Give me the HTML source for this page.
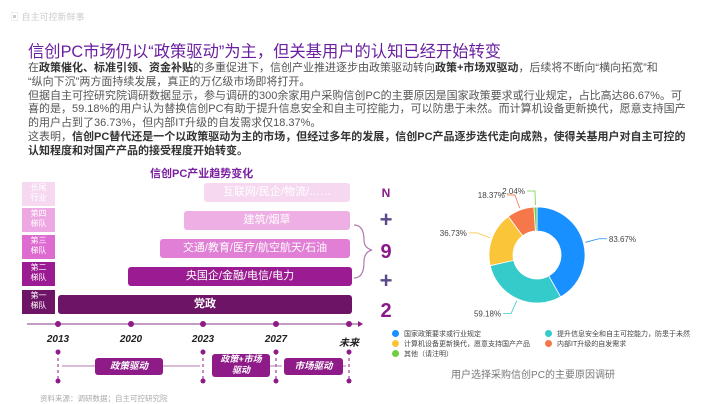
<!DOCTYPE html>
<html><head><meta charset="utf-8"><style>
body{margin:0;width:720px;height:404px;background:#fff;position:relative;overflow:hidden;font-family:"Liberation Sans","Noto Sans CJK SC",sans-serif}
.a{position:absolute}
.p{font-size:11px;color:#555;line-height:13.8px;left:28px;top:62px;white-space:nowrap}
.p b{color:#333}
.lab{position:absolute;left:22px;width:33px;height:24px;font-size:8px;line-height:10px;color:#fff;text-align:center;padding-top:1px;box-sizing:border-box}
.bar{position:absolute;height:19px;border-radius:3px;color:#fff;font-size:11px;text-align:center;line-height:19px}
.yr{position:absolute;top:334px;font-size:10px;font-weight:bold;font-style:italic;color:#222;width:40px;text-align:center}
.num{position:absolute;left:378px;width:16px;text-align:center;color:#8a1a8a;font-weight:bold}
.drv{position:absolute;background:#8e1b88;color:#fff;font-size:9.5px;font-style:italic;font-weight:bold;text-align:center;border-radius:3px}
.lg{position:absolute;font-size:7px;color:#444;line-height:9px}
.lg i{display:inline-block;width:7px;height:7px;border-radius:50%;margin-right:5px;vertical-align:-1px}
</style></head><body>
<div class="a" style="left:10px;top:10px;font-size:9px;color:#ccc">▣ 自主可控新鲜事</div>
<div class="a" style="left:28px;top:38px;font-size:16.3px;color:#6a1fa0">信创PC市场仍以“政策驱动”为主，但关基用户的认知已经开始转变</div>
<div class="a p">在<b>政策催化、标准引领、资金补贴</b>的多重促进下，信创产业推进逐步由政策驱动转向<b>政策+市场双驱动</b>，后续将不断向“横向拓宽”和<br>“纵向下沉”两方面持续发展，真正的万亿级市场即将打开。<br>但据自主可控研究院调研数据显示，参与调研的300余家用户采购信创PC的主要原因是国家政策要求或行业规定，占比高达86.67%。可<br>喜的是，59.18%的用户认为替换信创PC有助于提升信息安全和自主可控能力，可以防患于未然。而计算机设备更新换代，愿意支持国产<br>的用户占到了36.73%，但内部IT升级的自发需求仅18.37%。<br>这表明，<b>信创PC替代还是一个以政策驱动为主的市场，但经过多年的发展，信创PC产品逐步迭代走向成熟，使得关基用户对自主可控的<br>认知程度和对国产产品的接受程度开始转变。</b></div>

<div class="a" style="left:150px;top:165px;font-size:11px;font-weight:bold;color:#7a1fa0">信创PC产业趋势变化</div>
<div class="lab" style="top:182px;background:#f6d9f1">长尾<br>行业</div>
<div class="lab" style="top:208px;background:#eda7e2">第四<br>梯队</div>
<div class="lab" style="top:235px;background:#dd6bd0">第三<br>梯队</div>
<div class="lab" style="top:262px;background:#9b1c92">第二<br>梯队</div>
<div class="lab" style="top:290px;background:#6e1466">第一<br>梯队</div>
<div class="bar" style="left:204px;width:146px;top:183px;background:#f6d9f1">互联网/民企/物流/……</div>
<div class="bar" style="left:184px;width:166px;top:211px;background:#eeb0e4">建筑/烟草</div>
<div class="bar" style="left:160px;width:190px;top:239px;background:#e07fd5">交通/教育/医疗/航空航天/石油</div>
<div class="bar" style="left:128px;width:224px;top:267px;background:#9b1c92">央国企/金融/电信/电力</div>
<div class="bar" style="left:58px;width:294px;top:295px;background:#6e1466;font-weight:bold">党政</div>
<svg class="a" style="left:0;top:0" width="720" height="404">
<line x1="27" y1="324" x2="360" y2="324" stroke="#b07aae" stroke-width="1.5"/>
<path d="M358 321 L363 324 L358 327Z" fill="#8e1b88"/>
<g fill="#8e1b88"><circle cx="58" cy="324" r="3"/><circle cx="131" cy="324" r="3"/><circle cx="203" cy="324" r="3"/><circle cx="276" cy="324" r="3"/><circle cx="349" cy="324" r="3"/>
<circle cx="58" cy="352" r="2.5"/><circle cx="203" cy="352" r="2.5"/><circle cx="276" cy="352" r="2.5"/><circle cx="349" cy="352" r="2.5"/>
<circle cx="58" cy="381" r="2.5"/><circle cx="203" cy="381" r="2.5"/><circle cx="276" cy="381" r="2.5"/><circle cx="349" cy="381" r="2.5"/></g>
<g stroke="#8e1b88" stroke-dasharray="3 3"><line x1="58" y1="352" x2="58" y2="381"/><line x1="203" y1="352" x2="203" y2="381"/><line x1="276" y1="352" x2="276" y2="381"/><line x1="349" y1="352" x2="349" y2="381"/></g>
<g stroke="#b07aae"><line x1="62" y1="366" x2="200" y2="366"/><line x1="270" y1="366" x2="282" y2="366"/><line x1="340" y1="366" x2="346" y2="366"/></g>
<path d="M354 225 Q364 225 364 240 Q364 248 372 250 Q364 252 364 262 Q364 278 354 278" fill="none" stroke="#b07aae" stroke-width="1.2"/>
</svg>
<div class="yr" style="left:38px">2013</div>
<div class="yr" style="left:111px">2020</div>
<div class="yr" style="left:183px">2023</div>
<div class="yr" style="left:256px">2027</div>
<div class="yr" style="left:329px">未来</div>
<div class="drv" style="left:95px;top:358px;width:68px;height:17px;line-height:17px">政策驱动</div>
<div class="drv" style="left:212px;top:354px;width:58px;height:23px;line-height:11px;font-size:9px">政策+市场<br>驱动</div>
<div class="drv" style="left:284px;top:358px;width:59px;height:17px;line-height:17px">市场驱动</div>
<div class="num" style="top:186px;font-size:12px">N</div>
<div class="num" style="top:207px;font-size:22px;color:#5b4a8a">+</div>
<div class="num" style="top:241px;font-size:20px">9</div>
<div class="num" style="top:268px;font-size:22px;color:#5b4a8a">+</div>
<div class="num" style="top:300px;font-size:20px">2</div>
<div class="a" style="left:40px;top:393px;font-size:7.5px;color:#aaa">资料来源：调研数据；自主可控研究院</div>

<svg class="a" id="donut" style="left:0;top:0" width="720" height="404"></svg>
<div class="lg" style="left:392px;top:330px"><i style="background:#1890ff"></i>国家政策要求或行业规定</div>
<div class="lg" style="left:545px;top:330px"><i style="background:#36cbcb"></i>提升信息安全和自主可控能力，防患于未然</div>
<div class="lg" style="left:392px;top:340px"><i style="background:#fbc53a"></i>计算机设备更新换代，愿意支持国产产品</div>
<div class="lg" style="left:545px;top:340px"><i style="background:#f5774a"></i>内部IT升级的自发需求</div>
<div class="lg" style="left:392px;top:350px"><i style="background:#6dcf40"></i>其他（请注明）</div>
<div class="a" style="left:440px;top:366px;width:186px;text-align:center;font-size:10px;color:#777">用户选择采购信创PC的主要原因调研</div>
<script>
const categories=["国家政策要求或行业规定","提升信息安全和自主可控能力","计算机设备更新换代","内部IT升级的自发需求","其他"];
const values=[83.67,59.18,36.73,18.37,2.04];
const labels=["83.67%","59.18%","36.73%","18.37%","2.04%"];
const colors=["#1890ff","#36cbcb","#fbc53a","#f5774a","#6dcf40"];
const svg=document.getElementById('donut');const NS="http://www.w3.org/2000/svg";
const cx=537,cy=255,R=48,r=24;const total=values.reduce((a,b)=>a+b,0);
let a0=-Math.PI/2;
const pt=(rad,a)=>[cx+rad*Math.cos(a),cy+rad*Math.sin(a)];
values.forEach((v,i)=>{const a1=a0+v/total*2*Math.PI;const big=a1-a0>Math.PI?1:0;
const [x0,y0]=pt(R,a0),[x1,y1]=pt(R,a1),[x2,y2]=pt(r,a1),[x3,y3]=pt(r,a0);
const p=document.createElementNS(NS,'path');
p.setAttribute('d',`M${x0} ${y0}A${R} ${R} 0 ${big} 1 ${x1} ${y1}L${x2} ${y2}A${r} ${r} 0 ${big} 0 ${x3} ${y3}Z`);
p.setAttribute('fill',colors[i]);p.setAttribute('stroke','#fff');p.setAttribute('stroke-width','0.8');


svg.appendChild(p);
const am=(a0+a1)/2;const [lx,ly]=pt(R+2,am);const [ex,ey]=pt(R+16,am);const right=Math.cos(am)>=0;
const ln=document.createElementNS(NS,'polyline');
ln.setAttribute('points',`${lx},${ly} ${ex},${ey} ${ex+(right?8:-8)},${ey}`);ln.setAttribute('fill','none');ln.setAttribute('stroke',colors[i]);ln.setAttribute('stroke-width','0.8');


svg.appendChild(ln);
const t=document.createElementNS(NS,'text');t.setAttribute('x',ex+(right?10:-10));t.setAttribute('y',ey+3);t.setAttribute('font-size','8');t.setAttribute('fill','#444');
t.setAttribute('text-anchor',right?'start':'end');t.textContent=labels[i];


svg.appendChild(t);a0=a1;});
</script>
</body></html>
